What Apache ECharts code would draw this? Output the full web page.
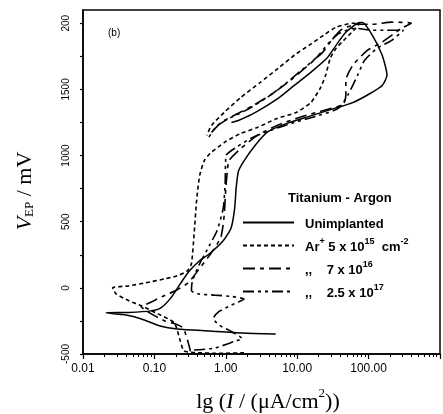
<!DOCTYPE html>
<html><head><meta charset="utf-8">
<script src="https://cdn.jsdelivr.net/npm/echarts@6/dist/echarts.min.js"></script>
<style>html,body{margin:0;padding:0;background:#fff}#c{width:443px;height:414px}</style>
</head><body><div id="c"></div>
<script>
// ---- data: [current density (uA/cm2), potential (mV)] ----
const seriesNames = ['Unimplanted', 'Ar 5e15', 'Ar 7e16', 'Ar 2.5e17'];
const unimplanted = [
  [5.0,-348],[1.7,-341],[0.59,-326],[0.21,-311],[0.12,-288],[0.066,-235],[0.04,-205],[0.021,-189],
  [0.044,-186],[0.09,-174],[0.123,-152],[0.17,-76],[0.23,30],[0.31,129],[0.43,205],[0.59,258],[0.92,356],
  [1.19,455],[1.33,600],[1.4,760],[1.5,880],[1.8,960],[2.6,1080],[3.9,1180],[7.3,1245],[15.5,1300],
  [35,1360],[60,1400],[102,1465],[155,1530],[181,1606],[155,1758],[113,1909],[82,2005],
  [75,2005],[48,1932],[35,1833],[26,1735],[15.5,1629],[9.1,1530],[5.4,1432],[2.6,1326],[1.5,1265],[1.2,1250]
];
const ar5e15 = [
  [1.8,-490],[0.9,-495],[0.4,-490],[0.26,-477],[0.23,-400],[0.19,-265],[0.112,-197],[0.066,-136],[0.044,-98],
  [0.029,-45],[0.026,0],[0.044,15],[0.075,38],[0.14,68],[0.21,91],[0.29,129],[0.33,182],[0.36,409],[0.39,659],
  [0.43,848],[0.5,962],[0.6,1015],[0.95,1098],[1.62,1167],[2.77,1212],[5.2,1280],[9.7,1326],[15.6,1402],
  [21,1508],[25,1606],[29,1735],[35,1810],[48,1886],[66,1962],[75,2000],
  [60,2000],[35,1970],[23.4,1909],[14.6,1833],[9.1,1758],[5.4,1659],[3.04,1553],[1.62,1439],[0.95,1326],
  [0.63,1227],[0.54,1152]
];
const ar7e16 = [
  [0.32,-480],[0.3,-420],[0.27,-340],[0.25,-300],[0.19,-270],[0.14,-250],[0.1,-210],[0.075,-170],[0.065,-140],
  [0.08,-120],[0.13,-65],[0.2,-20],[0.3,40],[0.42,140],[0.6,250],[0.85,380],[0.95,550],[1.0,750],[1.05,880],
  [1.11,962],[1.62,1053],[2.77,1152],[5.2,1227],[10.7,1288],[23.4,1341],[44,1386],[48,1455],[48,1568],
  [60,1682],[96,1795],[154,1856],[289,1962],[396,2000],
  [211,2008],[113,1992],[70,1992],[42.5,1955],[31,1879],[22.7,1780],[13.7,1674],[8.05,1568],[4.57,1470],
  [2.29,1371],[1.3,1303],[0.86,1250],[0.63,1174]
];
const ar25e17 = [
  [0.36,-470],[0.7,-455],[1.4,-400],[1.7,-385],[1.1,-320],[0.8,-280],[0.67,-230],[0.8,-180],[1.2,-130],
  [1.8,-85],[1.2,-65],[0.7,-55],[0.4,-45],[0.33,-20],[0.34,50],[0.42,170],[0.55,290],[0.75,430],[0.92,600],
  [0.98,800],[1.01,1000],[1.39,1061],[2.22,1129],[4.16,1189],[9.1,1250],[20,1303],[37.5,1356],[51,1455],
  [70,1606],[88,1720],[132,1811],[211,1871],[308,1947],
  [180,1947],[113,1947],[64,1962],[38.7,1924],[27.4,1849],[18.8,1743],[11.4,1644],[6.67,1538],[3.79,1439],
  [1.9,1341],[1.11,1280],[0.74,1220],[0.575,1136]
];
const xMinorTicks = [0.02,0.03,0.04,0.05,0.06,0.07,0.08,0.09,0.2,0.3,0.4,0.5,0.6,0.7,0.8,0.9,
  2,3,4,5,6,7,8,9,20,30,40,50,60,70,80,90,200,300,400,500,600,700,800,900];
const yTickValues = [-500, 0, 500, 1000, 1500, 2000];
const yTickText = ['-500', '0', '500', '1000', '1500', '200'];
const yTickMarks = [-500,-250,0,250,500,750,1000,1250,1500,1750,2000];
const legendText = [
  '{g|}{t|Unimplanted}',
  '{g|}{t|Ar}{sup|+}{t| 5 x 10}{sup|15}{t|  cm}{sup|-2}',
  '{g|}{t|,,    7 x 10}{sup|16}',
  '{g|}{t|,,    2.5 x 10}{sup|17}'
];

const SANS = '"Liberation Sans", Arial, sans-serif';
const SERIF = '"Liberation Serif", "Times New Roman", serif';
const dashes = [null, [4, 3], [12, 5, 4, 5], [11, 4, 3, 4, 3, 4]];
const dataSets = [unimplanted, ar5e15, ar7e16, ar25e17];

const chart = echarts.init(document.getElementById('c'), null, {renderer: 'canvas'});
chart.setOption({
  animation: false,
  backgroundColor: '#fff',
  grid: {left: 83, top: 10, width: 366, height: 344, show: true, borderColor: '#000', borderWidth: 1.5, backgroundColor: 'transparent'},
  xAxis: [{
    type: 'log', logBase: 10, min: 0.01, max: 1000, position: 'bottom',
    axisLine: {onZero: false, lineStyle: {color: '#000', width: 1.5}},
    axisTick: {length: 5, lineStyle: {color: '#000', width: 1.2}},
    axisLabel: {fontSize: 12, margin: 9, color: '#000', fontFamily: SANS,
      formatter: v => (v >= 999 ? '' : Number(v).toFixed(2))},
    splitLine: {show: false}
  }, {
    type: 'log', logBase: 10, min: 0.01, max: 1000, position: 'bottom',
    axisLine: {show: false, onZero: false},
    axisTick: {show: true, length: 3, customValues: xMinorTicks, lineStyle: {color: '#000', width: 1}},
    axisLabel: {show: false},
    splitLine: {show: false}
  }],
  yAxis: {
    type: 'value', min: -500, max: 2100, interval: 500,
    axisLine: {show: true, onZero: false, lineStyle: {color: '#000', width: 1.5}},
    axisTick: {show: true, length: 3, customValues: yTickMarks, lineStyle: {color: '#000', width: 1.2}},
    axisLabel: {customValues: yTickValues, rotate: 90, margin: 12, fontSize: 10, color: '#000', fontFamily: SANS,
      formatter: v => { const i = yTickValues.indexOf(v); return i < 0 ? '' : yTickText[i]; }},
    splitLine: {show: false}
  },
  legend: {
    orient: 'vertical', left: 242, top: 216, padding: 0, itemWidth: 51, itemHeight: 14, itemGap: 7,
    selectedMode: false, data: seriesNames,
    itemStyle: {opacity: 0},
    formatter: name => legendText[seriesNames.indexOf(name)],
    textStyle: {color: '#000', fontFamily: SANS, fontSize: 13,
      rich: {
        g: {width: 6},
        t: {fontSize: 13, fontWeight: 'bold', fontFamily: SANS, color: '#000', lineHeight: 16, verticalAlign: 'bottom'},
        sup: {fontSize: 9, fontWeight: 'bold', fontFamily: SANS, color: '#000', lineHeight: 10, verticalAlign: 'top'}
      }}
  },
  graphic: [
    {type: 'text', x: 108, y: 33, style: {text: '(b)', font: '10px ' + SANS, fill: '#000', verticalAlign: 'middle'}},
    {type: 'text', x: 288, y: 198, style: {text: 'Titanium - Argon', font: 'bold 13px ' + SANS, fill: '#000', verticalAlign: 'middle'}},
    {type: 'text', x: 268, y: 400, style: {
      text: '{n|lg (}{i|I}{n| / (μA/cm}{sup|2}{n|))}', align: 'center', verticalAlign: 'middle',
      rich: {
        n: {fontSize: 22, fontFamily: SERIF, fill: '#000', lineHeight: 26, verticalAlign: 'bottom'},
        i: {fontSize: 22, fontFamily: SERIF, fontStyle: 'italic', fill: '#000', lineHeight: 26, verticalAlign: 'bottom'},
        sup: {fontSize: 13, fontFamily: SERIF, fill: '#000', lineHeight: 18, verticalAlign: 'top'}
      }}},
    {type: 'text', x: 23, y: 191, rotation: Math.PI / 2, style: {
      text: '{v|V}{s|EP}{n| / mV}', align: 'center', verticalAlign: 'middle',
      rich: {
        v: {fontSize: 22, fontFamily: SERIF, fontStyle: 'italic', fill: '#000', lineHeight: 26, verticalAlign: 'bottom'},
        s: {fontSize: 13, fontFamily: SERIF, fill: '#000', lineHeight: 10, verticalAlign: 'bottom'},
        n: {fontSize: 22, fontFamily: SERIF, fill: '#000', lineHeight: 26, verticalAlign: 'bottom'}
      }}}
  ],
  series: dataSets.map((d, i) => ({
    name: seriesNames[i], type: 'line', xAxisIndex: 0, data: d,
    showSymbol: false, symbol: 'none', smooth: 0.2,
    lineStyle: {color: '#000', width: i === 0 ? 1.5 : 1.6, type: dashes[i] || 'solid'},
    itemStyle: {color: '#000'},
    emphasis: {disabled: true}
  }))
});
</script></body></html>
